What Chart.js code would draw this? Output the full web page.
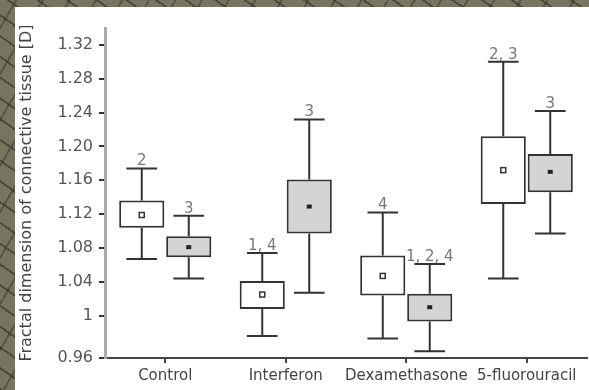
<!DOCTYPE html>
<html>
<head>
<meta charset="utf-8">
<script src="https://cdn.jsdelivr.net/npm/chart.js@4"></script>
<style>
  html, body { margin: 0; padding: 0; }
  body {
    width: 589px; height: 390px; overflow: hidden; position: relative;
    background-color: #76755f;
    background-image:
      repeating-linear-gradient(35deg, rgba(40,40,30,0.55) 0 2px, transparent 2px 17px),
      repeating-linear-gradient(-60deg, rgba(40,40,30,0.4) 0 2px, transparent 2px 23px);
  }
  #panel { position: absolute; left: 15px; top: 7px; width: 574px; height: 383px; background: #fff; }
</style>
</head>
<body>
<div id="panel"><canvas id="boxChart"></canvas></div>
<script>
// categorías y valores
const categories = ['Control', 'Interferon', 'Dexamethasone', '5-fluorouracil'];

// serie blanca
const whiteMin  = [1.067, 0.976, 0.973, 1.044];
const whiteQ1   = [1.104, 1.008, 1.024, 1.132];
const whiteMean = [1.119, 1.025, 1.047, 1.172];
const whiteQ3   = [1.136, 1.041, 1.071, 1.212];
const whiteMax  = [1.174, 1.074, 1.122, 1.300];
const whiteNotes = ['2', '1, 4', '4', '2, 3'];

// serie gris
const greyMin  = [1.044, 1.027, 0.958, 1.097];
const greyQ1   = [1.069, 1.097, 0.993, 1.146];
const greyMean = [1.081, 1.129, 1.010, 1.170];
const greyQ3   = [1.094, 1.161, 1.026, 1.191];
const greyMax  = [1.118, 1.232, 1.061, 1.242];
const greyNotes = ['3', '3', '1, 2, 4', '3'];

// marcas del eje y (la primera se dibuja en la base del eje)
const yTickValues = [0.95, 1, 1.04, 1.08, 1.12, 1.16, 1.20, 1.24, 1.28, 1.32];
const yTickLabels = ['0.96', '1', '1.04', '1.08', '1.12', '1.16', '1.20', '1.24', '1.28', '1.32'];

const FONT = 'DejaVu Sans';

const stats = [
  { min: whiteMin, mean: whiteMean, max: whiteMax, notes: whiteNotes, hollow: true },
  { min: greyMin,  mean: greyMean,  max: greyMax,  notes: greyNotes,  hollow: false }
];

// bigotes, medias y anotaciones
const whiskers = {
  id: 'whiskers',
  afterDatasetsDraw(chart) {
    const ctx = chart.ctx;
    const y = chart.scales.y;
    ctx.save();
    chart.data.datasets.forEach((ds, di) => {
      const s = stats[di];
      chart.getDatasetMeta(di).data.forEach((bar, i) => {
        const x = bar.x;
        const capW = bar.width * 0.68;
        const yMax = y.getPixelForValue(s.max[i]);
        const yMin = y.getPixelForValue(s.min[i]);
        const yQ3 = y.getPixelForValue(ds.data[i][1]);
        const yQ1 = y.getPixelForValue(ds.data[i][0]);
        ctx.strokeStyle = '#333';
        ctx.lineWidth = 2;
        ctx.beginPath();
        ctx.moveTo(x, yMax); ctx.lineTo(x, yQ3);
        ctx.moveTo(x, yQ1); ctx.lineTo(x, yMin);
        ctx.moveTo(x - capW / 2, yMax); ctx.lineTo(x + capW / 2, yMax);
        ctx.moveTo(x - capW / 2, yMin); ctx.lineTo(x + capW / 2, yMin);
        ctx.stroke();
        // media
        const yM = y.getPixelForValue(s.mean[i]);
        if (s.hollow) {
          ctx.lineWidth = 1.5;
          ctx.strokeRect(x - 2.5, yM - 2.5, 5, 5);
        } else {
          ctx.fillStyle = '#222';
          ctx.fillRect(x - 2.5, yM - 2, 5, 4);
        }
        // anotación
        ctx.fillStyle = '#777';
        ctx.font = '15px "' + FONT + '"';
        ctx.textAlign = 'center';
        ctx.textBaseline = 'alphabetic';
        ctx.fillText(s.notes[i], x, yMax - 3);
      });
    });
    ctx.restore();
  }
};

const ctx = document.getElementById('boxChart').getContext('2d');

new Chart(ctx, {
  type: 'bar',
  data: {
    labels: categories,
    datasets: [
      {
        label: 'white',
        data: whiteQ1.map((v, i) => [v, whiteQ3[i]]),
        backgroundColor: '#ffffff',
        borderColor: '#333',
        borderWidth: 2,
        borderSkipped: false,
        categoryPercentage: 0.78,
        barPercentage: 0.96
      },
      {
        label: 'grey',
        data: greyQ1.map((v, i) => [v, greyQ3[i]]),
        backgroundColor: '#d2d4d6',
        borderColor: '#333',
        borderWidth: 2,
        borderSkipped: false,
        categoryPercentage: 0.78,
        barPercentage: 0.96
      }
    ]
  },
  options: {
    responsive: true,
    maintainAspectRatio: false,
    animation: false,
    layout: { padding: { top: 21, right: 2, left: 0, bottom: 0 } },
    plugins: {
      legend: { display: false },
      tooltip: { enabled: false }
    },
    scales: {
      x: {
        grid: { display: true, offset: false, drawOnChartArea: false, drawTicks: true, tickLength: 5, color: '#444', lineWidth: 2 },
        border: { display: true, color: '#444', width: 2 },
        ticks: { color: '#444', font: { family: FONT, size: 15 }, padding: 4, maxRotation: 0, autoSkip: false },
        afterFit: s => { s.height = 32; }
      },
      y: {
        min: 0.95,
        max: 1.34,
        afterBuildTicks: s => { s.ticks = yTickValues.map(v => ({ value: v })); },
        grid: { display: true, drawOnChartArea: false, drawTicks: true, tickLength: 6, color: '#333', lineWidth: 2 },
        border: { display: true, color: '#aaa', width: 3 },
        ticks: {
          color: '#555',
          font: { family: FONT, size: 16 },
          padding: 6,
          callback: (v, i) => yTickLabels[i]
        },
        title: {
          display: true,
          text: 'Fractal dimension of connective tissue [D]',
          color: '#444',
          font: { family: FONT, size: 16 },
          padding: { top: 2, bottom: 0 }
        },
        afterFit: s => { s.width = 90; }
      }
    }
  },
  plugins: [whiskers]
});
</script>
</body>
</html>
